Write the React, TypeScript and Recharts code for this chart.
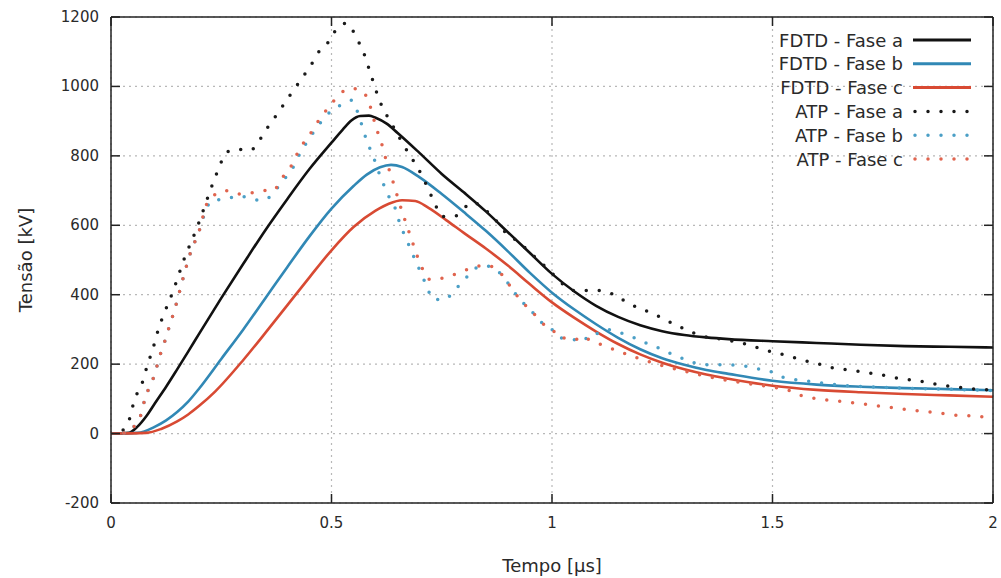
import React from 'react';
import { LineChart, Line, XAxis, YAxis, CartesianGrid, Legend, Label } from 'recharts';

const xTicks = [0, 0.5, 1, 1.5, 2];
const yTicks = [-200, 0, 200, 400, 600, 800, 1000, 1200];

const fdtdA: [number, number][] = [
  [0, 0], [0.04, 2], [0.06, 20], [0.08, 50], [0.1, 88], [0.125, 135], [0.15, 185], [0.175, 236], [0.2, 288],
  [0.25, 390], [0.3, 489], [0.35, 586], [0.4, 676], [0.45, 762], [0.5, 838], [0.525, 875], [0.545, 902],
  [0.565, 915], [0.585, 916], [0.6, 910], [0.625, 893], [0.65, 866], [0.7, 808], [0.75, 748], [0.8, 695],
  [0.85, 640], [0.9, 580], [0.95, 520], [1.0, 460], [1.05, 410], [1.1, 368], [1.15, 336], [1.2, 312], [1.25, 295],
  [1.3, 284], [1.35, 277], [1.4, 272], [1.5, 266], [1.6, 261], [1.7, 256], [1.8, 252], [1.9, 250], [2, 248],
];

const fdtdB: [number, number][] = [
  [0, 0], [0.06, 2], [0.1, 20], [0.125, 38], [0.15, 62], [0.175, 92], [0.2, 130], [0.25, 215], [0.3, 300],
  [0.35, 390], [0.4, 480], [0.45, 568], [0.5, 648], [0.55, 713], [0.58, 746], [0.61, 767], [0.635, 774],
  [0.66, 768], [0.7, 738], [0.75, 690], [0.8, 638], [0.85, 584], [0.9, 525], [0.95, 463], [1.0, 406], [1.05, 358],
  [1.1, 315], [1.15, 276], [1.2, 243], [1.25, 217], [1.3, 198], [1.35, 183], [1.4, 172], [1.5, 152], [1.6, 141],
  [1.7, 135], [1.8, 131], [1.9, 128], [2, 125],
];

const fdtdC: [number, number][] = [
  [0, 0], [0.08, 2], [0.115, 14], [0.15, 35], [0.175, 55], [0.2, 80], [0.236, 121], [0.3, 212], [0.35, 290],
  [0.4, 370], [0.45, 450], [0.5, 528], [0.55, 595], [0.6, 642], [0.63, 662], [0.66, 672], [0.69, 670], [0.72, 650],
  [0.76, 615], [0.8, 578], [0.85, 533], [0.9, 484], [0.95, 430], [1.0, 378], [1.05, 334], [1.1, 294], [1.15, 258],
  [1.2, 228], [1.25, 204], [1.3, 185], [1.35, 170], [1.4, 158], [1.5, 138], [1.6, 126], [1.7, 119], [1.8, 114],
  [1.9, 110], [2, 106],
];

const atpA: [number, number][] = [
  [0, 0], [0.02, 4], [0.03, 14], [0.043, 46], [0.05, 82], [0.061, 121], [0.073, 154], [0.081, 191], [0.091, 229],
  [0.1, 266], [0.107, 299], [0.118, 338], [0.141, 411], [0.165, 500], [0.195, 593], [0.225, 700], [0.236, 738],
  [0.247, 772], [0.259, 808], [0.285, 819], [0.315, 816], [0.353, 878], [0.406, 975], [0.458, 1071], [0.474, 1105],
  [0.497, 1134], [0.512, 1167], [0.534, 1182], [0.553, 1150], [0.566, 1116], [0.578, 1080], [0.587, 1042],
  [0.596, 1008], [0.606, 969], [0.618, 934], [0.633, 900], [0.655, 850], [0.678, 801], [0.695, 767], [0.71, 730],
  [0.723, 694], [0.735, 661], [0.75, 625], [0.776, 625], [0.821, 666], [0.848, 645], [0.871, 617], [0.889, 587],
  [0.916, 559], [0.939, 535], [0.961, 509], [0.984, 482], [1.007, 453], [1.03, 425], [1.056, 411], [1.09, 413],
  [1.12, 410], [1.15, 393], [1.177, 373], [1.207, 357], [1.236, 341], [1.264, 323], [1.292, 306], [1.35, 278],
  [1.385, 272], [1.415, 265], [1.445, 256], [1.475, 244], [1.506, 233], [1.536, 224], [1.566, 212], [1.599, 203],
  [1.629, 191], [1.661, 185], [1.691, 180], [1.723, 174], [1.755, 167], [1.787, 159], [1.818, 154], [1.85, 148],
  [1.88, 140], [1.912, 135], [1.944, 130], [1.976, 127], [2, 125],
];

const atpB: [number, number][] = [
  [0, 0], [0.04, 3], [0.054, 24], [0.07, 63], [0.077, 101], [0.088, 136], [0.1, 174], [0.107, 208], [0.115, 241],
  [0.122, 266], [0.129, 295], [0.145, 360], [0.164, 450], [0.18, 520], [0.2, 584], [0.217, 650], [0.23, 672],
  [0.26, 675], [0.29, 685], [0.32, 675], [0.345, 672], [0.37, 695], [0.387, 725], [0.406, 752], [0.43, 810],
  [0.447, 845], [0.466, 880], [0.481, 905], [0.5, 930], [0.519, 945], [0.546, 960], [0.558, 930], [0.569, 888],
  [0.578, 851], [0.589, 815], [0.6, 780], [0.61, 743], [0.621, 709], [0.633, 675], [0.648, 637], [0.655, 603],
  [0.667, 569], [0.678, 535], [0.689, 502], [0.701, 468], [0.716, 424], [0.731, 386], [0.757, 386], [0.78, 415],
  [0.803, 444], [0.818, 470], [0.848, 483], [0.875, 470], [0.897, 439], [0.916, 405], [0.935, 376], [0.954, 352],
  [0.978, 318], [1.003, 296], [1.018, 275], [1.037, 275], [1.052, 270], [1.067, 280], [1.082, 272], [1.105, 290],
  [1.128, 299], [1.158, 289], [1.188, 275], [1.218, 258], [1.246, 244], [1.275, 227], [1.305, 212], [1.336, 200],
  [1.366, 198], [1.396, 198], [1.43, 196], [1.46, 188], [1.493, 180], [1.523, 163], [1.585, 150], [1.65, 140],
  [1.75, 133], [1.85, 129], [1.95, 126], [2, 124],
];

const atpC: [number, number][] = [
  [0, 0], [0.04, 3], [0.054, 24], [0.07, 63], [0.077, 101], [0.088, 136], [0.1, 174], [0.107, 208], [0.115, 241],
  [0.122, 266], [0.129, 295], [0.145, 360], [0.164, 450], [0.18, 520], [0.2, 584], [0.217, 661], [0.228, 680],
  [0.26, 700], [0.29, 690], [0.32, 694], [0.345, 700], [0.368, 700], [0.387, 735], [0.406, 765], [0.43, 825],
  [0.45, 860], [0.47, 900], [0.5, 950], [0.519, 979], [0.549, 994], [0.572, 984], [0.587, 945], [0.602, 878],
  [0.614, 834], [0.621, 801], [0.64, 723], [0.66, 640], [0.68, 565], [0.701, 490], [0.723, 444], [0.757, 449],
  [0.788, 463], [0.818, 477], [0.848, 485], [0.875, 473], [0.897, 439], [0.916, 405], [0.935, 376], [0.954, 352],
  [0.978, 318], [1.003, 296], [1.018, 275], [1.037, 275], [1.052, 270], [1.067, 280], [1.082, 272], [1.1, 262],
  [1.15, 238], [1.2, 215], [1.25, 196], [1.3, 180], [1.35, 165], [1.4, 153], [1.45, 143], [1.5, 134], [1.54, 123],
  [1.566, 109], [1.599, 101], [1.63, 96], [1.661, 92], [1.692, 87], [1.725, 82], [1.757, 77], [1.788, 72],
  [1.819, 67], [1.851, 63], [1.884, 58], [1.914, 53], [1.946, 51], [1.978, 48], [2, 46],
];

const seriesNames = ['FDTD - Fase a', 'FDTD - Fase b', 'FDTD - Fase c', 'ATP - Fase a', 'ATP - Fase b', 'ATP - Fase c'];
const seriesKeys = ['fdtdA', 'fdtdB', 'fdtdC', 'atpA', 'atpB', 'atpC'];
const seriesData = [fdtdA, fdtdB, fdtdC, atpA, atpB, atpC];
const seriesColors = ['#111111', '#3188b5', '#d84a33', '#1a1a1a', '#4b9fc6', '#e0644e'];
const seriesDotted = [false, false, false, true, true, true];

// merged table built from the arrays (one row per distinct time)
const table = (() => {
  const map = new Map<number, any>();
  seriesData.forEach((arr, i) => {
    arr.forEach(([t, v]) => {
      if (!map.has(t)) map.set(t, { t });
      map.get(t)[seriesKeys[i]] = v;
    });
  });
  return Array.from(map.values()).sort((a, b) => a.t - b.t);
})();

const FONT = 'DejaVu Sans, sans-serif';
const TEXT_COLOR = '#2a2a2a';
const TICK_LEN = 9;
const LEFT_MARGIN = 12;
const BOTTOM_MARGIN = 14;

const LeftTick = (props: any) => {
  const { x, y, payload } = props;
  const ax = x + LEFT_MARGIN;
  return (
    <g>
      <line x1={ax} x2={ax + TICK_LEN} y1={y} y2={y} stroke="#222" strokeWidth={1.5} />
      <text x={x} y={y} textAnchor="end" dominantBaseline="central" fontFamily={FONT} fontSize={15} fill={TEXT_COLOR}>
        {payload.value}
      </text>
    </g>
  );
};

const BottomTick = (props: any) => {
  const { x, y, payload } = props;
  const ay = y - BOTTOM_MARGIN;
  return (
    <g>
      <line x1={x} x2={x} y1={ay} y2={ay - TICK_LEN} stroke="#222" strokeWidth={1.5} />
      <text x={x} y={y} textAnchor="middle" dominantBaseline="hanging" fontFamily={FONT} fontSize={15} fill={TEXT_COLOR}>
        {payload.value}
      </text>
    </g>
  );
};

const TopTick = (props: any) => {
  const { x, y } = props;
  return <line x1={x} x2={x} y1={y} y2={y + TICK_LEN} stroke="#222" strokeWidth={1.5} />;
};

const RightTick = (props: any) => {
  const { x, y } = props;
  return <line x1={x} x2={x - TICK_LEN} y1={y} y2={y} stroke="#222" strokeWidth={1.5} />;
};

const YLabel = (props: any) => {
  const vb = props.viewBox || { x: 0, y: 17, width: 111, height: 486 };
  const cx = vb.x + 25;
  const cy = vb.y + vb.height / 2;
  return (
    <text x={cx} y={cy} transform={`rotate(-90, ${cx}, ${cy})`} textAnchor="middle" dominantBaseline="central"
      fontFamily={FONT} fontSize={18} fill={TEXT_COLOR}>
      Tensão [kV]
    </text>
  );
};

const XLabel = (props: any) => {
  const vb = props.viewBox || { x: 111, y: 503, width: 882, height: 75 };
  const cx = vb.x + vb.width / 2;
  const cy = vb.y + 62;
  return (
    <text x={cx} y={cy} textAnchor="middle" dominantBaseline="central" fontFamily={FONT} fontSize={18} fill={TEXT_COLOR}>
      Tempo [μs]
    </text>
  );
};

const LegendContent = () => {
  const textRight = 903;
  const lineX1 = 913;
  const lineX2 = 971;
  const y0 = 40;
  const dy = 23.8;
  return (
    <svg width={1001} height={200} style={{ position: 'absolute', left: 0, top: 0, overflow: 'visible' }}>
      {seriesNames.map((name, i) => {
        const y = y0 + i * dy;
        return (
          <g key={name}>
            <text x={textRight} y={y} textAnchor="end" dominantBaseline="central" fontFamily={FONT} fontSize={18} fill={TEXT_COLOR}>
              {name}
            </text>
            {seriesDotted[i] ? (
              <line x1={lineX1 + 2} x2={lineX2} y1={y} y2={y} stroke={seriesColors[i]} strokeWidth={3.5}
                strokeDasharray="0 13" strokeLinecap="round" />
            ) : (
              <line x1={lineX1} x2={lineX2} y1={y} y2={y} stroke={seriesColors[i]} strokeWidth={3} />
            )}
          </g>
        );
      })}
    </svg>
  );
};

export default function App() {
  return (
    <div style={{ position: 'absolute', left: 0, top: 0, width: 1001, height: 578, background: '#fff' }}>
      <LineChart width={1001} height={578} data={table} margin={{ top: 0, right: 0, bottom: 0, left: 0 }}>
        <CartesianGrid xAxisId="x" yAxisId="y" stroke="#b8b8b8" strokeDasharray="2 4" strokeWidth={1.2} />
        <XAxis xAxisId="x" dataKey="t" type="number" domain={[0, 2]} ticks={xTicks} allowDataOverflow
          orientation="bottom" height={75} tickSize={0} tickMargin={BOTTOM_MARGIN} tick={<BottomTick />}
          axisLine={{ stroke: '#222', strokeWidth: 1.5 }} interval={0}>
          <Label content={<XLabel />} />
        </XAxis>
        <XAxis xAxisId="top" dataKey="t" type="number" domain={[0, 2]} ticks={xTicks} allowDataOverflow
          orientation="top" height={17} tickSize={0} tickMargin={0} tick={<TopTick />}
          axisLine={{ stroke: '#222', strokeWidth: 1.5 }} interval={0} />
        <YAxis yAxisId="y" type="number" domain={[-200, 1200]} ticks={yTicks} allowDataOverflow
          orientation="left" width={111} tickSize={0} tickMargin={LEFT_MARGIN} tick={<LeftTick />}
          axisLine={{ stroke: '#222', strokeWidth: 1.5 }} interval={0}>
          <Label content={<YLabel />} />
        </YAxis>
        <YAxis yAxisId="right" type="number" domain={[-200, 1200]} ticks={yTicks} allowDataOverflow
          orientation="right" width={8} tickSize={0} tickMargin={0} tick={<RightTick />}
          axisLine={{ stroke: '#222', strokeWidth: 1.5 }} interval={0} />
        {seriesKeys.map((k, i) => (
          <Line key={k} xAxisId="x" yAxisId="y" dataKey={k} name={seriesNames[i]} type="monotone" connectNulls
            stroke={seriesColors[i]} strokeWidth={seriesDotted[i] ? 3.5 : 2.6} dot={false} activeDot={false}
            strokeDasharray={seriesDotted[i] ? '0 13' : undefined} strokeLinecap="round" strokeLinejoin="round"
            isAnimationActive={false} />
        ))}
        <Legend layout="horizontal" verticalAlign="top" align="center" content={<LegendContent />}
          wrapperStyle={{ left: 0, top: 0, width: 0, height: 0, overflow: 'visible' }} />
      </LineChart>
    </div>
  );
}
